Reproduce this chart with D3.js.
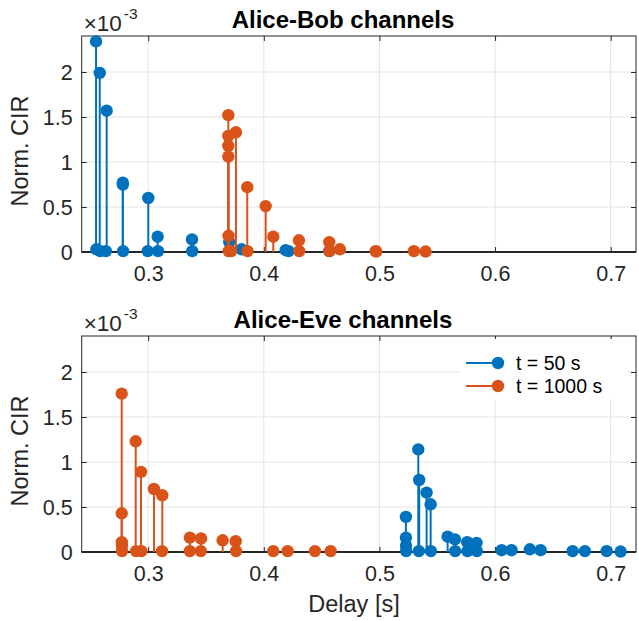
<!DOCTYPE html>
<html>
<head>
<meta charset="utf-8">
<script src="https://cdn.jsdelivr.net/npm/d3@7"></script>
<style>
  body { margin: 0; background: #fff; }
  svg { font-family: "Liberation Sans", Arial, sans-serif; }
</style>
</head>
<body>
<svg id="chart" width="639" height="621"></svg>
<script>
// values in units of 1e-3
const abDelay50 = [0.2549, 0.2552, 0.2581, 0.2585, 0.2641, 0.2634, 0.2780, 0.2781, 0.2783, 0.3001, 0.2996, 0.3082, 0.3085, 0.3379, 0.3381, 0.3701, 0.3704, 0.3808, 0.4189, 0.4214, 0.4566];
const abCir50 = [2.34, 0.03, 1.99, 0.01, 1.57, 0.01, 0.77, 0.75, 0.01, 0.60, 0.01, 0.17, 0.01, 0.14, 0.01, 0.11, 0.01, 0.03, 0.02, 0.01, 0.01];
const abDelay1000 = [0.3693, 0.3693, 0.3693, 0.3693, 0.3695, 0.3696, 0.3718, 0.3759, 0.3857, 0.3859, 0.4016, 0.4082, 0.4304, 0.4306, 0.4566, 0.4568, 0.4658, 0.4967, 0.4972, 0.5298, 0.5399];
const abCir1000 = [1.52, 1.29, 1.18, 1.06, 0.18, 0.01, 0.01, 1.33, 0.72, 0.01, 0.51, 0.17, 0.13, 0.01, 0.11, 0.01, 0.03, 0.01, 0.005, 0.01, 0.005];

const aeDelay50 = [0.5229, 0.5229, 0.5230, 0.5231, 0.5336, 0.5344, 0.5341, 0.5408, 0.5443, 0.5445, 0.5590, 0.5653, 0.5655, 0.5759, 0.5761, 0.5840, 0.5842, 0.6057, 0.6143, 0.6301, 0.6394, 0.6671, 0.6777, 0.6965, 0.7086];
const aeCir50 = [0.39, 0.16, 0.07, 0.01, 1.14, 0.80, 0.01, 0.66, 0.53, 0.01, 0.17, 0.14, 0.01, 0.11, 0.01, 0.10, 0.01, 0.02, 0.02, 0.03, 0.02, 0.01, 0.01, 0.01, 0.005];
const aeDelay1000 = [0.2771, 0.2771, 0.2772, 0.2773, 0.2774, 0.2892, 0.2895, 0.2938, 0.2941, 0.3050, 0.3122, 0.3120, 0.3361, 0.3360, 0.3457, 0.3455, 0.3644, 0.3757, 0.3760, 0.4082, 0.4206, 0.4442, 0.4578];
const aeCir1000 = [1.76, 0.43, 0.11, 0.075, 0.01, 1.23, 0.01, 0.89, 0.01, 0.70, 0.63, 0.01, 0.16, 0.01, 0.15, 0.01, 0.13, 0.12, 0.01, 0.01, 0.01, 0.01, 0.01];

const xTicks = [0.3, 0.4, 0.5, 0.6, 0.7];
const yTicks = [0, 0.5, 1, 1.5, 2];
const seriesNames = ['t = 50 s', 't = 1000 s'];
const colors = ['#0072BD', '#D95319'];

const svg = d3.select('#chart');
const axColor = '#262626';
const left = 81.7, right = 636;
const tickFont = '21.5px', labelFont = '23.5px';

function panel(top, bottom, title, series, legend) {
    const x = d3.scaleLinear().domain([0.2425, 0.7219]).range([left, right]);
    const y = d3.scaleLinear().domain([0, 2.4]).range([bottom, top]);
    const g = svg.append('g');

    // grid
    g.selectAll('.gx').data(xTicks).enter().append('line')
        .attr('x1', d => x(d)).attr('x2', d => x(d))
        .attr('y1', top).attr('y2', bottom)
        .attr('stroke', '#e3e3e3').attr('stroke-width', 1);
    g.selectAll('.gy').data(yTicks).enter().append('line')
        .attr('x1', left).attr('x2', right)
        .attr('y1', d => y(d)).attr('y2', d => y(d))
        .attr('stroke', '#e3e3e3').attr('stroke-width', 1);

    // box with inward ticks
    g.append('rect').attr('x', left).attr('y', top)
        .attr('width', right - left).attr('height', bottom - top)
        .attr('fill', 'none').attr('stroke', axColor).attr('stroke-width', 1);
    const xb = d3.axisBottom(x).tickValues(xTicks).tickSizeInner(-5).tickSizeOuter(0).tickFormat(d3.format('.1f'));
    const xt = d3.axisTop(x).tickValues(xTicks).tickSizeInner(-5).tickSizeOuter(0).tickFormat('');
    const yl = d3.axisLeft(y).tickValues(yTicks).tickSizeInner(-5).tickSizeOuter(0).tickFormat(d => d);
    const yr = d3.axisRight(y).tickValues(yTicks).tickSizeInner(-5).tickSizeOuter(0).tickFormat('');
    const axes = [[xb, 'translate(0,' + bottom + ')'], [xt, 'translate(0,' + top + ')'],
        [yl, 'translate(' + left + ',0)'], [yr, 'translate(' + right + ',0)']].map(([ax, tr]) => {
        const a = g.append('g').attr('transform', tr).call(ax);
        a.select('.domain').remove();
        a.selectAll('line').attr('stroke', axColor);
        a.selectAll('text').attr('fill', axColor).style('font-size', tickFont)
            .style('font-family', '"Liberation Sans", Arial, sans-serif');
        return a;
    });
    axes[0].selectAll('text').attr('y', 29).attr('dy', 0);
    axes[2].selectAll('text').attr('x', -9).attr('dy', '0.36em');

    // stem baseline
    g.append('line').attr('x1', left).attr('x2', right)
        .attr('y1', y(0)).attr('y2', y(0))
        .attr('stroke', axColor).attr('stroke-width', 2);

    series.forEach((s, si) => {
        const pts = s.delay.map((d, i) => ({ d: d, v: s.cir[i] }));
        const sg = g.append('g');
        sg.selectAll('line').data(pts).enter().append('line')
            .attr('x1', p => x(p.d)).attr('x2', p => x(p.d))
            .attr('y1', y(0)).attr('y2', p => y(p.v))
            .attr('stroke', colors[si]).attr('stroke-width', 2);
        sg.selectAll('circle').data(pts).enter().append('circle')
            .attr('cx', p => x(p.d)).attr('cy', p => y(p.v)).attr('r', 6.2)
            .attr('fill', colors[si]);
    });

    // title and exponent
    svg.append('text').attr('x', 343).attr('y', top - 8).attr('text-anchor', 'middle')
        .style('font-size', '24px').style('font-weight', 'bold').attr('fill', '#000').text(title);
    const ex = svg.append('text').attr('x', left + 2).attr('y', top - 5.5).attr('fill', axColor).style('font-size', '22.5px');
    ex.append('tspan').text('\u00d710');
    ex.append('tspan').attr('dx', 2).attr('dy', -11.5).style('font-size', '15.5px').text('-3');

    svg.append('text').attr('transform', 'translate(28,' + ((top + bottom) / 2 + 7) + ') rotate(-90)')
        .attr('text-anchor', 'middle').attr('fill', axColor).style('font-size', labelFont).text('Norm. CIR');

    if (legend) {
        const lg = svg.append('g');
        lg.append('rect').attr('x', 460).attr('y', top + 3).attr('width', 168).attr('height', 60).attr('fill', '#fff');
        seriesNames.forEach((name, i) => {
            const ly = top + 27 + i * 23;
            lg.append('line').attr('x1', 466).attr('x2', 498).attr('y1', ly).attr('y2', ly)
                .attr('stroke', colors[i]).attr('stroke-width', 2);
            lg.append('circle').attr('cx', 498).attr('cy', ly).attr('r', 6.2).attr('fill', colors[i]);
            lg.append('text').attr('x', 516).attr('y', ly + 7).attr('fill', '#000')
                .style('font-size', '19.5px').text(name);
        });
    }
}

panel(36, 252, 'Alice-Bob channels',
    [{ delay: abDelay50, cir: abCir50 }, { delay: abDelay1000, cir: abCir1000 }], false);
panel(336, 552, 'Alice-Eve channels',
    [{ delay: aeDelay50, cir: aeCir50 }, { delay: aeDelay1000, cir: aeCir1000 }], true);

svg.append('text').attr('x', 354).attr('y', 612).attr('text-anchor', 'middle')
    .attr('fill', axColor).style('font-size', labelFont).text('Delay [s]');
</script>
</body>
</html>
